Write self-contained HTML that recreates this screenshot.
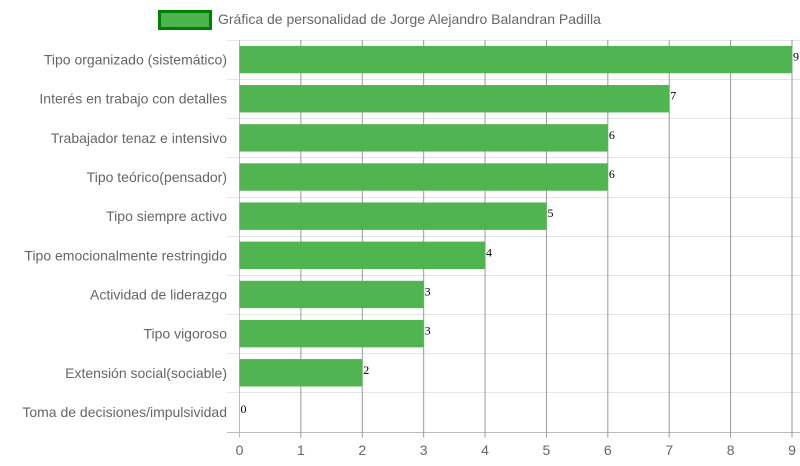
<!DOCTYPE html>
<html><head><meta charset="utf-8"><style>
html,body{margin:0;padding:0;background:#fff;width:800px;height:466px;overflow:hidden}
svg text{font-family:"Liberation Sans",sans-serif}
</style></head><body>
<svg id="chart" width="800" height="466" xmlns="http://www.w3.org/2000/svg">
<g>
<rect x="159.5" y="11.5" width="51" height="17" fill="#4db34d" stroke="#008000" stroke-width="3"/>
<text x="218" y="24" font-size="14" fill="#666">Gráfica de personalidad de Jorge Alejandro Balandran Padilla</text>
</g>
<g id="grid"></g><g id="bars"></g><g id="labels"></g>
</svg>
<script>
const categories=["Tipo organizado (sistemático)","Interés en trabajo con detalles","Trabajador tenaz e intensivo","Tipo teórico(pensador)","Tipo siempre activo","Tipo emocionalmente restringido","Actividad de liderazgo","Tipo vigoroso","Extensión social(sociable)","Toma de decisiones/impulsividad"];
const values=[9,7,6,6,5,4,3,3,2,0];
const xTicks=[0,1,2,3,4,5,6,7,8,9];
const NS="http://www.w3.org/2000/svg";
const X0=239.5,X1=792,Y0=40,Y1=431.5,XMAX=9;
const x=v=>X0+(X1-X0)*v/XMAX;
const band=(Y1-Y0)/categories.length;
const y=i=>Y0+band*i;
function mk(tag,attrs,parent){const e=document.createElementNS(NS,tag);for(const k in attrs)e.setAttribute(k,attrs[k]);parent.appendChild(e);return e;}
const grid=document.getElementById('grid'),bars=document.getElementById('bars'),labels=document.getElementById('labels');
for(let i=0;i<=categories.length;i++){
  const l=mk('line',{x1:227,x2:800,y1:Math.round(y(i))+0.5,y2:Math.round(y(i))+0.5,stroke:i==categories.length?'#bbb':'#e6e6e6','stroke-width':1},grid);
  
  
}
xTicks.forEach(t=>{
  const l=mk('line',{x1:x(t),x2:x(t),y1:Y0,y2:Y1+6,stroke:t==0?'#bbb':'#999','stroke-width':1},grid);
  
  
  const tx=mk('text',{x:x(t),y:455,'font-size':14,fill:'#666','text-anchor':'middle'},labels);
  tx.textContent=t;
  
  
});
categories.forEach((c,i)=>{
  const cy=y(i)+band/2;
  const tx=mk('text',{x:227,y:cy+5,'font-size':14,fill:'#666','text-anchor':'end'},labels);
  tx.textContent=c;
  
  
  const h=band*0.7;
  if(values[i]>0){
    const r=mk('rect',{x:X0,y:cy-h/2,width:x(values[i])-X0,height:h,fill:'#4db34d','fill-opacity':0.98},bars);
    
    
  }
  const v=mk('text',{x:x(values[i])+1,y:cy+1,'font-size':12,fill:'#000','font-family':'Liberation Serif, serif'},labels);
  v.style.fontFamily='"Liberation Serif",serif';
  v.textContent=values[i];
  
  
});
</script>
</body></html>
